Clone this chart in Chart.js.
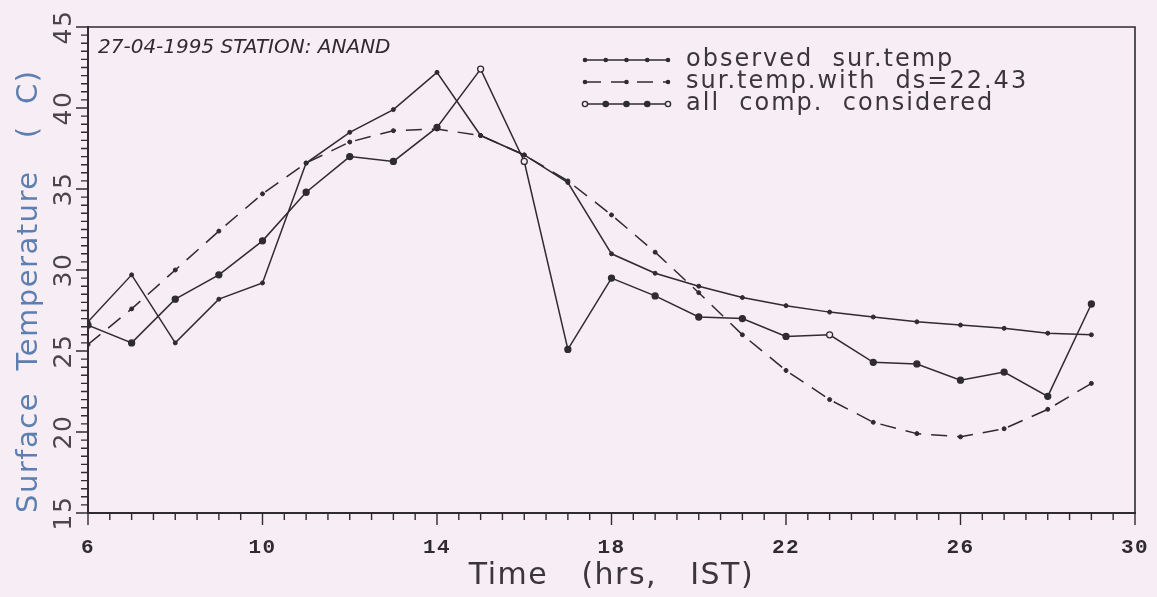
<!DOCTYPE html>
<html>
<head>
<meta charset="utf-8">
<script src="https://cdn.jsdelivr.net/npm/chart.js@4.4.1/dist/chart.umd.min.js"></script>
<style>
  html, body { margin: 0; padding: 0; background: #f6edf5; }
  #wrap { width: 1157px; height: 597px; }
</style>
</head>
<body>
<div id="wrap"><canvas id="tempChart" width="1157" height="597"></canvas></div>
<script>
const hours = [6, 7, 8, 9, 10, 11, 12, 13, 14, 15, 16, 17, 18, 19, 20, 21, 22, 23, 24, 25, 26, 27, 28, 29];

const observed = [26.8, 29.7, 25.5, 28.2, 29.2, 36.6, 38.5, 39.9, 42.2, 38.3, 37.1, 35.4,
    31.0, 29.8, 29.0, 28.3, 27.8, 27.4, 27.1, 26.8, 26.6, 26.4, 26.1, 26.0];

const withDs = [25.4, 27.6, 30.0, 32.4, 34.7, 36.6, 37.9, 38.6, 38.7, 38.3, 37.1, 35.5,
    33.4, 31.1, 28.6, 26.0, 23.8, 22.0, 20.6, 19.9, 19.7, 20.2, 21.4, 23.0];

const allComp = [26.6, 25.5, 28.2, 29.7, 31.8, 34.8, 37.0, 36.7, 38.8, 42.4, 36.7, 25.1,
    29.5, 28.4, 27.1, 27.0, 25.9, 26.0, 24.3, 24.2, 23.2, 23.7, 22.2, 27.9];

const xTicks = [6, 10, 14, 18, 22, 26, 30];
const yTicks = [15, 20, 25, 30, 35, 40, 45];

const ink = '#2f2b30';
const paper = '#f6edf5';

const toPoints = (vals) => hours.map((h, i) => ({ x: h, y: vals[i] }));

// hollow markers on a few points of the third curve
const hollowAt = [15, 16, 23];

const paperPlugin = {
    id: 'paper',
    beforeDraw(chart) {
        const ctx = chart.ctx;
        ctx.save();
        ctx.fillStyle = paper;
        ctx.fillRect(0, 0, chart.width, chart.height);
        ctx.restore();
        // the scanned lettering is widely spaced
        try { ctx.letterSpacing = '1.5px'; } catch (e) {}
    },
    afterDraw(chart) {
        const { ctx, chartArea: a, scales: { x, y } } = chart;
        ctx.save();
        ctx.strokeStyle = ink;
        ctx.lineWidth = 1.6;

        // top and right of the frame
        ctx.beginPath();
        ctx.moveTo(a.left, a.top);
        ctx.lineTo(a.right, a.top);
        ctx.lineTo(a.right, a.bottom);
        ctx.stroke();

        // tick marks, every half unit
        ctx.lineWidth = 1.4;
        ctx.beginPath();
        for (let v = 6; v <= 30; v += 0.5) {
            const px = x.getPixelForValue(v);
            const len = (v - 6) % 4 === 0 ? 12 : 7;
            ctx.moveTo(px, a.bottom);
            ctx.lineTo(px, a.bottom + len);
        }
        for (let v = 15; v <= 45; v += 0.5) {
            const py = y.getPixelForValue(v);
            const len = v % 5 === 0 ? 12 : 7;
            ctx.moveTo(a.left, py);
            ctx.lineTo(a.left - len, py);
        }
        ctx.stroke();

        // legend
        const sets = chart.data.datasets;
        const lx0 = 585, lx1 = 668, ly0 = 60, step = 22;
        ctx.font = '24px "DejaVu Sans"';
        ctx.textBaseline = 'middle';
        ctx.textAlign = 'left';
        try { ctx.letterSpacing = '2px'; } catch (e) {}
        sets.forEach((ds, i) => {
            const ly = ly0 + i * step;
            ctx.strokeStyle = ink;
            ctx.lineWidth = 1.4;
            ctx.setLineDash(ds.borderDash || []);
            ctx.beginPath();
            ctx.moveTo(lx0, ly);
            ctx.lineTo(lx1, ly);
            ctx.stroke();
            ctx.setLineDash([]);
            const r = i === 2 ? 2.6 : 1.6;
            [0, 0.25, 0.5, 0.75, 1].forEach((f, k) => {
                if (i === 1 && (k === 1 || k === 3)) return;
                const px = lx0 + f * (lx1 - lx0);
                ctx.beginPath();
                ctx.arc(px, ly, r, 0, Math.PI * 2);
                ctx.fillStyle = (i === 2 && (k === 0 || k === 4)) ? paper : ink;
                ctx.fill();
                ctx.stroke();
            });
            ctx.fillStyle = '#3a363b';
            ctx.fillText(ds.label, 686, ly);
        });

        // date / station note
        try { ctx.letterSpacing = '0px'; } catch (e) {}
        ctx.font = 'italic 20px "DejaVu Sans"';
        ctx.fillStyle = ink;
        ctx.fillText('27-04-1995 STATION: ANAND', 98, 48);
        ctx.restore();
    }
};

const chart = new Chart(document.getElementById('tempChart'), {
    type: 'line',
    data: {
        datasets: [{
            label: 'observed  sur.temp',
            data: toPoints(observed),
            borderColor: ink,
            borderWidth: 1.5,
            pointRadius: 2,
            pointBackgroundColor: ink,
            pointBorderColor: ink,
            pointBorderWidth: 1,
            tension: 0,
        }, {
            label: 'sur.temp.with  ds=22.43',
            data: toPoints(withDs),
            borderColor: ink,
            borderWidth: 1.5,
            borderDash: [16, 10],
            pointRadius: 2,
            pointBackgroundColor: ink,
            pointBorderColor: ink,
            pointBorderWidth: 1,
            tension: 0,
        }, {
            label: 'all  comp.  considered',
            data: toPoints(allComp),
            borderColor: ink,
            borderWidth: 1.5,
            pointRadius: 3,
            pointBackgroundColor: hours.map(h => hollowAt.includes(h) ? paper : ink),
            pointBorderColor: ink,
            pointBorderWidth: 1.3,
            tension: 0,
        }]
    },
    options: {
        responsive: false,
        animation: false,
        layout: {
            padding: { top: 27, right: 22, left: 0, bottom: 0 }
        },
        plugins: {
            legend: { display: false },
            tooltip: { enabled: false },
        },
        scales: {
            x: {
                type: 'linear',
                min: 6,
                max: 30,
                afterFit: (s) => { s.height = 84; s.paddingRight = 0; s.paddingLeft = 0; },
                afterBuildTicks: (s) => { s.ticks = xTicks.map(v => ({ value: v })); },
                grid: { display: false, drawTicks: false },
                border: { display: true, color: ink, width: 2 },
                ticks: {
                    padding: 22,
                    color: ink,
                    font: { family: '"Liberation Mono"', size: 21, weight: 'bold' },
                },
                title: {
                    display: true,
                    text: 'Time   (hrs,   IST)',
                    color: '#3a363b',
                    font: { family: '"DejaVu Sans"', size: 30 },
                    padding: { top: 0, bottom: 3 },
                },
            },
            y: {
                min: 15,
                max: 45,
                afterFit: (s) => { s.width = 88; },
                afterBuildTicks: (s) => { s.ticks = yTicks.map(v => ({ value: v })); },
                grid: { display: false, drawTicks: false },
                border: { display: true, color: ink, width: 2 },
                ticks: {
                    minRotation: 90,
                    maxRotation: 90,
                    crossAlign: 'center',
                    padding: 8,
                    color: '#4a464b',
                    font: { family: '"DejaVu Sans"', size: 25 },
                },
                title: {
                    display: true,
                    align: 'start',
                    text: 'Surface  Temperature   (  C)',
                    color: '#5d7fb0',
                    font: { family: '"DejaVu Sans"', size: 29 },
                    padding: { top: 12, bottom: 0 },
                },
            },
        },
    },
    plugins: [paperPlugin],
});
</script>
</body>
</html>
